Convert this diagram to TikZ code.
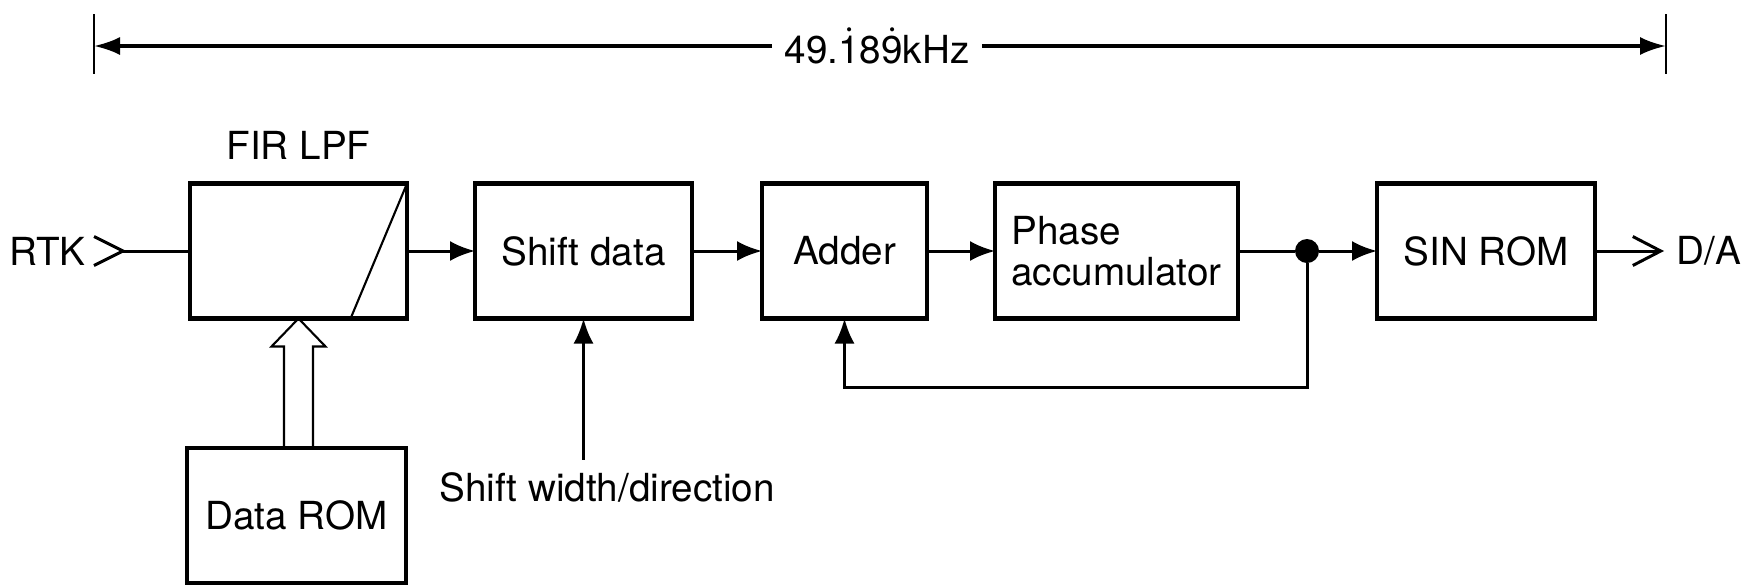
\documentclass[tikz,border=0pt]{standalone}
\usepackage{fontspec}
\setmainfont{TeX Gyre Heros}
\usetikzlibrary{arrows.meta,calc,positioning}
\newcommand{\lblfont}{\fontsize{11}{11.7}\selectfont}
\newcommand{\repdot}[1]{\ensuremath{\dot{\mbox{#1}}}}

\begin{document}
\begin{tikzpicture}[x=0.1mm, y=-0.1mm, font=\lblfont]
\tikzstyle{block}=[rectangle, draw=black, line width=1.3pt, minimum height=13.5mm, inner sep=0pt, outer sep=0pt]
\tikzstyle{connect}=[-{Latex[length=2.5mm,width=2mm]}, line width=0.85pt]
\tikzstyle{wire}=[line width=0.85pt]
\tikzstyle{barbout}=[-{Straight Barb[length=2.8mm,width=2.9mm]}, line width=0.85pt]
\tikzstyle{dimline}=[-{Latex[length=2.6mm,width=1.8mm]}, line width=0.9pt]
\tikzstyle{thinline}=[line width=0.6pt]
\tikzstyle{junction}=[circle, fill=black, minimum size=2.4mm, inner sep=0pt, outer sep=0pt]
\useasboundingbox (0,0) rectangle (1749,585);
  % sample rate span
  \node (freq) at (877,46) {49.\repdot{1}8\repdot{9}kHz};
  \coordinate (lt) at (94,46);
  \coordinate (rt) at (1666,46);
  \draw[dimline] (freq) -- (lt);
  \draw[dimline] (freq) -- (rt);
  \draw[thinline] ($(lt)+(0,-32)$) -- ($(lt)+(0,28)$);
  \draw[thinline] ($(rt)+(0,-32)$) -- ($(rt)+(0,28)$);
  % signal chain
  \node[block, minimum width=21.7mm, label={[label distance=1.2mm]above:FIR LPF}] (fir) at (298.5,251) {};
  \node[block, minimum width=21.7mm] (shift) [right=6.8mm of fir] {Shift data};
  \node[block, minimum width=16.5mm] (adder) [right=7mm of shift] {Adder};
  \node[block, minimum width=24.3mm, align=left] (phase) [right=6.8mm of adder] {Phase\\accumulator};
  \node[junction] (dot) [right=5.7mm of phase] {};
  \node[block, minimum width=21.8mm] (sinrom) [right=13.9mm of phase] {SIN ROM};
  \node (da) [right=6.9mm of sinrom] {D/A};
  \node[block, minimum width=21.9mm] (rom) at (296.5,515.5) {Data ROM};
  \node (swd) at (607,487) {Shift width/direction};
  \coordinate[left=6.7mm of fir.west] (rtkin);
  \node (rtk) [left=2.5mm of rtkin] {RTK};
  % filter slope
  \draw[thinline] (fir.north east) -- ($(fir.south west)!0.74!(fir.south east)$);
  % coefficient bus
  \coordinate (hl) at ($(fir.south)+(-14.5,28)$);
  \coordinate (hr) at ($(fir.south)+(14.5,28)$);
  \draw[thinline, line join=miter] (rom.north -| hl) -- (hl) -- ++(-12.5,0) -- (fir.south)
      -- ($(hr)+(12.5,0)$) -- (hr) -- (rom.north -| hr);
  % input
  \draw[wire] ($(rtkin)+(-29,-14.5)$) -- (rtkin) -- ($(rtkin)+(-29,14.5)$);
  \draw[wire] (rtkin) -- (fir);
  \path[connect] (fir) edge (shift)
                 (shift) edge (adder)
                 (adder) edge (phase)
                 (dot) edge (sinrom)
                 (swd.north -| shift.south) edge (shift.south);
  \draw[wire] (phase) -- (dot);
  \draw[connect] (dot) -- ++(0,136) -| (adder.south);
  \draw[barbout] (sinrom) -- (da);
\end{tikzpicture}
\end{document}
